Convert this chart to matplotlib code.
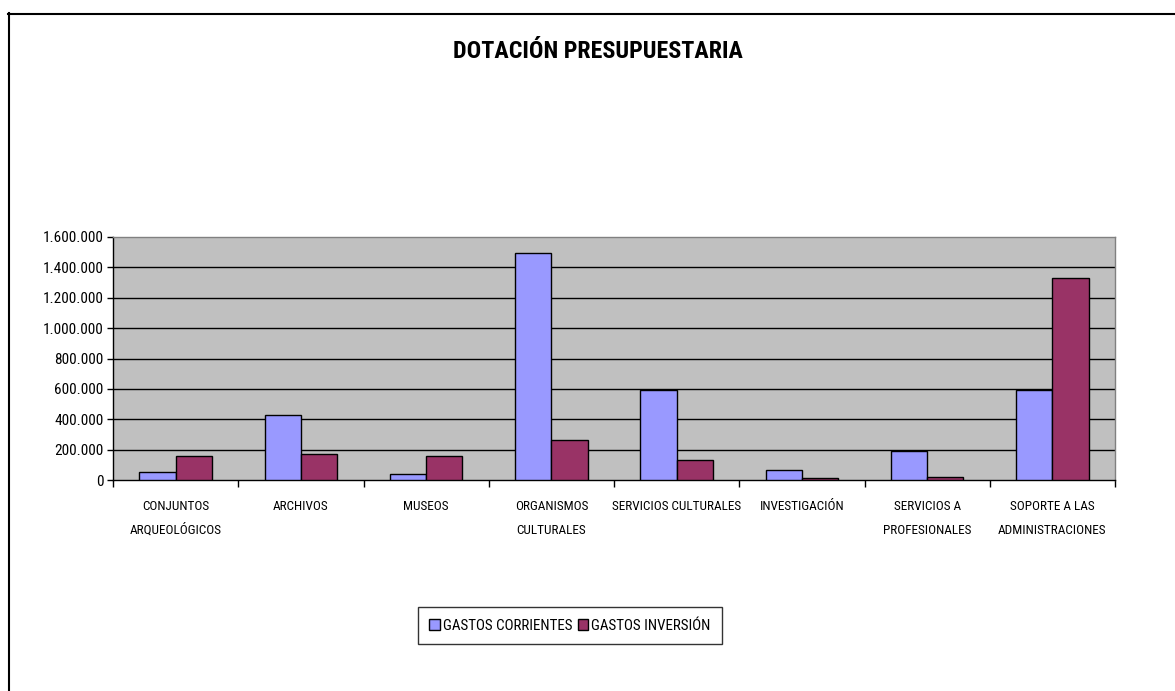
import matplotlib
matplotlib.use("Agg")
import matplotlib.pyplot as plt
from matplotlib.lines import Line2D
from matplotlib.ticker import FuncFormatter, FixedLocator
from matplotlib.transforms import blended_transform_factory
import numpy as np

categories = ["CONJUNTOS\nARQUEOLÓGICOS", "ARCHIVOS", "MUSEOS", "ORGANISMOS\nCULTURALES",
              "SERVICIOS CULTURALES", "INVESTIGACIÓN", "SERVICIOS A\nPROFESIONALES",
              "SOPORTE A LAS\nADMINISTRACIONES"]
gastos_corrientes = [52000, 428000, 41000, 1492000, 595000, 66000, 193000, 595000]
gastos_inversion = [160000, 171000, 160000, 265000, 130000, 10000, 22000, 1330000]
series_names = ["GASTOS CORRIENTES", "GASTOS INVERSIÓN"]
title = "DOTACIÓN PRESUPUESTARIA"

plt.rcParams['font.family'] = ["Roboto Condensed", "DejaVu Sans"]

W, H = 1175, 691
fig = plt.figure(figsize=(W / 100, H / 100), dpi=100)
fig.patch.set_facecolor("white")

# outer border (left & top)
fig.add_artist(Line2D([8.5 / W, 8.5 / W], [0, 1 - 13 / H], transform=fig.transFigure, color="black", lw=1.5))
fig.add_artist(Line2D([8 / W, 1], [1 - 13.5 / H, 1 - 13.5 / H], transform=fig.transFigure, color="black", lw=1.5))

ax = fig.add_axes([113 / W, (H - 480) / H, (1115 - 113) / W, (480 - 237) / H])
ax.set_facecolor("#C0C0C0")

x = np.arange(len(categories))
w = 0.29
ax.bar(x - w / 2, gastos_corrientes, w, color="#9999FF", edgecolor="black", lw=1.0, label=series_names[0], zorder=3)
ax.bar(x + w / 2, gastos_inversion, w, color="#993366", edgecolor="black", lw=1.0, label=series_names[1], zorder=3)

ax.set_xlim(-0.5, len(categories) - 0.5)
ax.set_ylim(0, 1600000)
yt = np.arange(0, 1600001, 200000)
ax.set_yticks(yt)
ax.yaxis.set_major_formatter(FuncFormatter(lambda v, p: f"{int(v):,}".replace(",", ".")))
ax.grid(axis="y", color="black", lw=1.0, zorder=1)
ax.set_axisbelow(True)
gl = ax.get_ygridlines()
gl[-1].set_visible(False)
gl[0].set_visible(False)

# category labels (one text per line, fixed line positions)
ax.set_xticks(x)
ax.set_xticklabels([""] * len(categories))
trans = blended_transform_factory(ax.transData, fig.transFigure)
line_y = [506, 530]
for xi, lab in zip(x, categories):
    for j, part in enumerate(lab.split("\n")):
        ax.text(xi, 1 - line_y[j] / H, part, transform=trans, ha="center", va="center",
                fontsize=9.5, clip_on=False)

ax.xaxis.set_minor_locator(FixedLocator(np.arange(-0.5, len(categories), 1.0)))
ax.tick_params(axis="x", which="major", length=0)
ax.tick_params(axis="x", which="minor", length=5, width=1, color="black", direction="out")
ax.tick_params(axis="y", which="major", length=4, width=1, labelsize=11, pad=3)

for s in ("left", "bottom"):
    ax.spines[s].set_color("black")
    ax.spines[s].set_linewidth(1.0)
for s in ("top", "right"):
    ax.spines[s].set_color("#808080")
    ax.spines[s].set_linewidth(1.0)

fig.text(598 / W, 1 - 52 / H, title, ha="center", va="center", fontsize=17.3, fontweight="bold")

leg = fig.legend(loc="center", bbox_to_anchor=(570 / W, 1 - 625.5 / H), ncol=2, fontsize=10.8,
                 frameon=True, fancybox=False, edgecolor="black", handlelength=0.7, handleheight=0.8,
                 handletextpad=0.2, columnspacing=0.35, borderpad=0.75, borderaxespad=0)
leg.get_frame().set_linewidth(1.0)

fig.savefig("out.png", dpi=100)
